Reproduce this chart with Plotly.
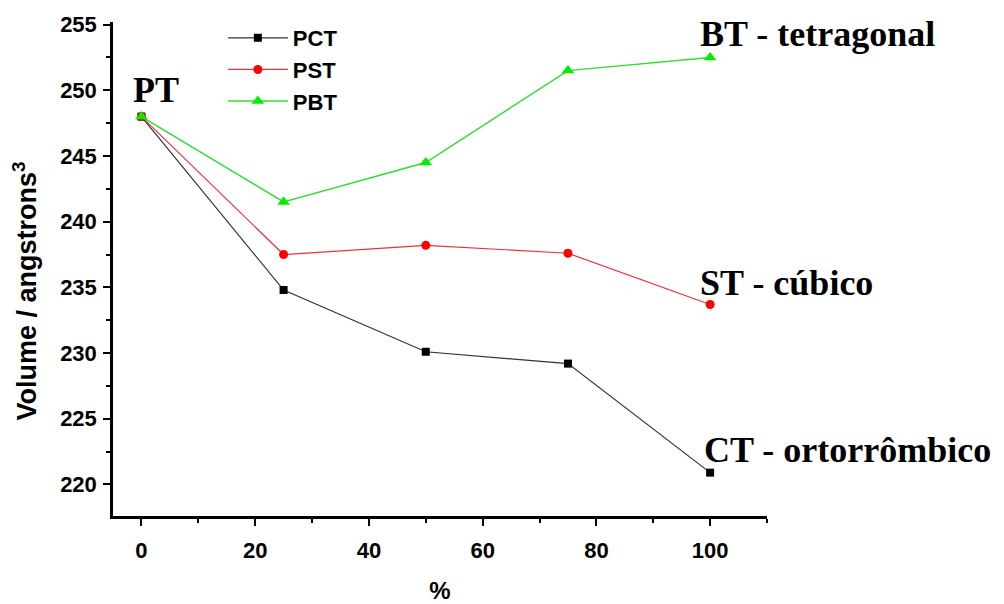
import plotly.graph_objects as go

x_pct = [0, 25, 50, 75, 100]
pct = [248.0, 234.8, 230.1, 229.2, 220.9]
pst = [248.0, 237.5, 238.2, 237.6, 233.7]
pbt = [248.0, 241.5, 244.5, 251.5, 252.5]

fig = go.Figure()
fig.add_trace(go.Scatter(x=x_pct, y=pct, name="PCT", mode="lines+markers",
                         line=dict(color="#333333", width=1.2),
                         marker=dict(symbol="square", size=8, color="black")))
fig.add_trace(go.Scatter(x=x_pct, y=pst, name="PST", mode="lines+markers",
                         line=dict(color="#e8323a", width=1.2),
                         marker=dict(symbol="circle", size=9, color="#ff0000")))
fig.add_trace(go.Scatter(x=x_pct, y=pbt, name="PBT", mode="lines+markers",
                         line=dict(color="#33dd33", width=1.5),
                         marker=dict(symbol="triangle-up", size=11, color="#00ee00")))

ann_font = dict(family="Liberation Serif", size=36, color="black", weight="bold")
anns = [
    dict(text="PT", x=2.5, y=250.0, xanchor="center", yanchor="middle"),
    dict(text="BT - tetragonal", x=97.8, y=254.3, xanchor="left", yanchor="middle"),
    dict(text="ST - cúbico", x=97.8, y=235.3, xanchor="left", yanchor="middle"),
    dict(text="CT - ortorrômbico", x=98.6, y=222.6, xanchor="left", yanchor="middle"),
]
for a in anns:
    fig.add_annotation(xref="x", yref="y", showarrow=False, font=ann_font, **a)

# y-axis title as a rotated annotation
fig.add_annotation(xref="paper", yref="paper", x=-0.134, y=0.455, xanchor="center", yanchor="middle",
                   text="Volume / angstrons<sup>3</sup>", textangle=-90, showarrow=False,
                   font=dict(family="Arial", size=27, color="black", weight="bold"))

axis_font = dict(family="Arial", size=22, color="black", weight="bold")
title_font = dict(family="Arial", size=24, color="black", weight="bold")
fig.update_layout(
    width=1004, height=604,
    margin=dict(l=113, r=237, t=22, b=88),
    plot_bgcolor="white", paper_bgcolor="white",
    font=dict(family="Arial", color="black"),
    showlegend=True,
    legend=dict(x=0.168, y=1.01, xanchor="left", yanchor="top",
                font=dict(family="Arial", size=22, color="black", weight="bold"),
                bgcolor="rgba(0,0,0,0)", tracegroupgap=0, itemwidth=60),
    xaxis=dict(range=[-5, 110], tickvals=[0, 20, 40, 60, 80, 100],
               ticks="outside", ticklen=7, tickwidth=2, tickcolor="black",
               minor=dict(tickvals=[10, 30, 50, 70, 90, 110], ticks="outside", ticklen=4, tickwidth=2, tickcolor="black"),
               showline=True, linecolor="black", linewidth=2.5, showgrid=False, zeroline=False,
               tickfont=axis_font, ticklabelstandoff=6, automargin=False,
               title=dict(text="%", font=title_font, standoff=30)),
    yaxis=dict(range=[217.6, 255.2], tickvals=[220, 225, 230, 235, 240, 245, 250, 255],
               ticks="outside", ticklen=7, tickwidth=2, tickcolor="black",
               minor=dict(tickvals=[222.5, 227.5, 232.5, 237.5, 242.5, 247.5, 252.5], ticks="outside", ticklen=4, tickwidth=2, tickcolor="black"),
               showline=True, linecolor="black", linewidth=2.5, showgrid=False, zeroline=False,
               tickfont=axis_font, ticklabelstandoff=2, automargin=False),
)

fig.write_html("out.html")
